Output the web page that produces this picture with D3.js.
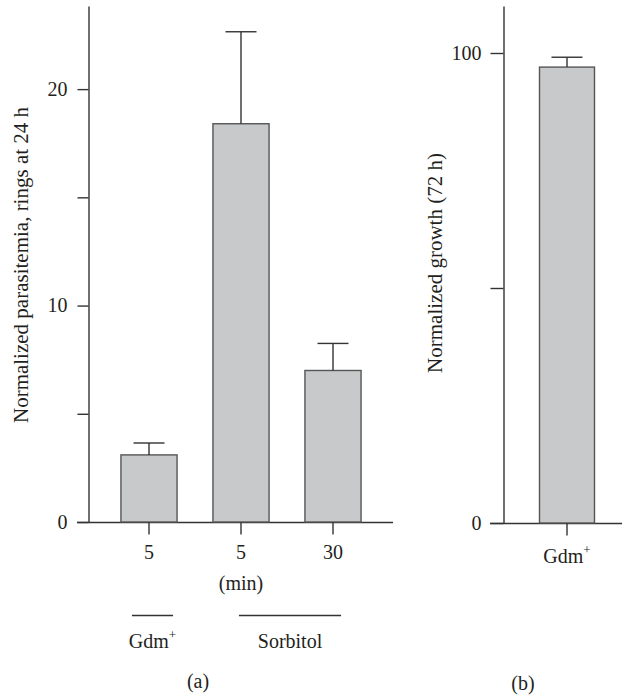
<!DOCTYPE html>
<html>
<head>
<meta charset="utf-8">
<script src="https://cdn.jsdelivr.net/npm/d3@7"></script>
<style>
  body { margin: 0; background: #fff; }
  svg text { font-family: "Liberation Serif", "DejaVu Serif", serif; fill: #231f20; }
</style>
</head>
<body>
<div id="chart"></div>
<script>
// panel (a)
const timesA = ['5', '5', '30'];
const ringsA = [3.1, 18.4, 7.0];
const errA = [0.55, 4.25, 1.25];
const ticksA = [0, 5, 10, 15, 20];
const labelTicksA = [0, 10, 20];
const groupNames = ['Gdm', 'Sorbitol'];
const groupSups = ['+', ''];
const groupFirst = [0, 1];
const groupLast = [0, 2];

// panel (b)
const catsB = ['Gdm'];
const growthB = [97];
const errB = [2.1];
const ticksB = [0, 50, 100];
const labelTicksB = [0, 100];

const width = 622, height = 695;
const axisColor = '#333', barFill = '#c8c9cb', barStroke = '#555';
const fs = '20px', fsTitle = '21px';

const svg = d3.select('#chart').append('svg')
  .attr('width', width).attr('height', height);

// ---------- panel (a) ----------
const yA = d3.scaleLinear().domain([0, 23.84]).range([522, 6]);
const xA = d3.scaleBand().domain(d3.range(timesA.length))
  .range([103, 379]).paddingInner(0.39).paddingOuter(0.195);

const gA = svg.append('g');

const axA = gA.append('g').attr('transform', 'translate(88.5,0)')
  .call(d3.axisLeft(yA).tickValues(ticksA).tickSize(11).tickSizeOuter(0)
    .tickFormat(d => labelTicksA.includes(d) ? d : ''));
axA.select('.domain').attr('stroke', axisColor).attr('stroke-width', 1.4);
axA.selectAll('.tick line').attr('stroke', axisColor).attr('stroke-width', 1.4);
axA.selectAll('.tick text').attr('x', -21).style('font-size', fs);

// baseline
gA.append('line').attr('x1', 77).attr('x2', 393)
  .attr('y1', yA(0) + 0.5).attr('y2', yA(0) + 0.5)
  .attr('stroke', axisColor).attr('stroke-width', 1.4);

gA.selectAll('rect.bar').data(ringsA).enter().append('rect')
  .attr('class', 'bar')
  .attr('x', (d, i) => xA(i))
  .attr('y', d => yA(d))
  .attr('width', xA.bandwidth())
  .attr('height', d => yA(0) - yA(d))
  .attr('fill', barFill).attr('stroke', barStroke).attr('stroke-width', 1.4);

gA.selectAll('line.err').data(ringsA).enter().append('line')
  .attr('class', 'err')
  .attr('x1', (d, i) => xA(i) + xA.bandwidth() / 2)
  .attr('x2', (d, i) => xA(i) + xA.bandwidth() / 2)
  .attr('y1', d => yA(d))
  .attr('y2', (d, i) => yA(d + errA[i]))
  .attr('stroke', axisColor).attr('stroke-width', 1.4);
gA.selectAll('line.cap').data(ringsA).enter().append('line')
  .attr('class', 'cap')
  .attr('x1', (d, i) => xA(i) + xA.bandwidth() / 2 - 15.5)
  .attr('x2', (d, i) => xA(i) + xA.bandwidth() / 2 + 15.5)
  .attr('y1', (d, i) => yA(d + errA[i]))
  .attr('y2', (d, i) => yA(d + errA[i]))
  .attr('stroke', axisColor).attr('stroke-width', 1.4);

// x ticks
const bxA = gA.append('g').attr('transform', `translate(0,${yA(0) + 0.5})`)
  .call(d3.axisBottom(xA).tickSize(12).tickSizeOuter(0)
    .tickFormat(i => timesA[i]));
bxA.select('.domain').remove();
bxA.selectAll('.tick line').attr('stroke', axisColor).attr('stroke-width', 1.4);
bxA.selectAll('.tick text').attr('y', 22).style('font-size', fs);

gA.append('text').attr('x', xA(1) + xA.bandwidth() / 2).attr('y', 590)
  .attr('text-anchor', 'middle').style('font-size', fs).text('(min)');

// group brackets
groupNames.forEach((name, k) => {
  const x1 = xA(groupFirst[k]) + (groupFirst[k] === groupLast[k] ? 11 : 26);
  const x2 = xA(groupLast[k]) + xA.bandwidth() - (groupFirst[k] === groupLast[k] ? 4 : 20);
  gA.append('line').attr('x1', x1).attr('x2', x2).attr('y1', 615.5).attr('y2', 615.5)
    .attr('stroke', axisColor).attr('stroke-width', 1.4);
  const t = gA.append('text').attr('x', (x1 + x2) / 2).attr('y', 648)
    .attr('text-anchor', 'middle').style('font-size', fs).text(name);
  if (groupSups[k]) {
    t.append('tspan').attr('dy', -9).style('font-size', '13px').text(groupSups[k]);
  }
});

gA.append('text')
  .attr('transform', 'translate(28,265) rotate(-90)')
  .attr('text-anchor', 'middle').style('font-size', fsTitle)
  .text('Normalized parasitemia, rings at 24 h');

gA.append('text').attr('x', 198).attr('y', 688)
  .attr('text-anchor', 'middle').style('font-size', fs).text('(a)');

// ---------- panel (b) ----------
const yB = d3.scaleLinear().domain([0, 110]).range([523, 6]);
const xB = d3.scaleBand().domain(catsB).range([512, 622]).padding(1 / 3);

const gB = svg.append('g');

const axB = gB.append('g').attr('transform', 'translate(503.5,0)')
  .call(d3.axisLeft(yB).tickValues(ticksB).tickSize(13).tickSizeOuter(0)
    .tickFormat(d => labelTicksB.includes(d) ? d : ''));
axB.select('.domain').attr('stroke', axisColor).attr('stroke-width', 1.4);
axB.selectAll('.tick line').attr('stroke', axisColor).attr('stroke-width', 1.4);
axB.selectAll('.tick text').attr('x', -22).style('font-size', fs);

gB.append('line').attr('x1', 490).attr('x2', 622)
  .attr('y1', yB(0) + 0.5).attr('y2', yB(0) + 0.5)
  .attr('stroke', axisColor).attr('stroke-width', 1.4);

gB.selectAll('rect.bar').data(growthB).enter().append('rect')
  .attr('class', 'bar')
  .attr('x', (d, i) => xB(catsB[i]))
  .attr('y', d => yB(d))
  .attr('width', xB.bandwidth())
  .attr('height', d => yB(0) - yB(d))
  .attr('fill', barFill).attr('stroke', barStroke).attr('stroke-width', 1.4);

gB.selectAll('line.err').data(growthB).enter().append('line')
  .attr('class', 'err')
  .attr('x1', (d, i) => xB(catsB[i]) + xB.bandwidth() / 2)
  .attr('x2', (d, i) => xB(catsB[i]) + xB.bandwidth() / 2)
  .attr('y1', d => yB(d))
  .attr('y2', (d, i) => yB(d + errB[i]))
  .attr('stroke', axisColor).attr('stroke-width', 1.4);
gB.selectAll('line.cap').data(growthB).enter().append('line')
  .attr('class', 'cap')
  .attr('x1', (d, i) => xB(catsB[i]) + xB.bandwidth() / 2 - 15.5)
  .attr('x2', (d, i) => xB(catsB[i]) + xB.bandwidth() / 2 + 15.5)
  .attr('y1', (d, i) => yB(d + errB[i]))
  .attr('y2', (d, i) => yB(d + errB[i]))
  .attr('stroke', axisColor).attr('stroke-width', 1.4);

const bxB = gB.append('g').attr('transform', `translate(0,${yB(0) + 0.5})`)
  .call(d3.axisBottom(xB).tickSize(12).tickSizeOuter(0).tickFormat(''));
bxB.select('.domain').remove();
bxB.selectAll('.tick line').attr('stroke', axisColor).attr('stroke-width', 1.4);
bxB.selectAll('.tick').append('text').attr('y', 39).attr('fill', '#231f20')
  .attr('text-anchor', 'middle').style('font-size', fs)
  .text(d => d)
  .append('tspan').attr('dy', -9).style('font-size', '13px').text('+');

gB.append('text')
  .attr('transform', 'translate(442,263) rotate(-90)')
  .attr('text-anchor', 'middle').style('font-size', fsTitle)
  .text('Normalized growth (72 h)');

gB.append('text').attr('x', 523).attr('y', 690)
  .attr('text-anchor', 'middle').style('font-size', fs).text('(b)');
</script>
</body>
</html>
